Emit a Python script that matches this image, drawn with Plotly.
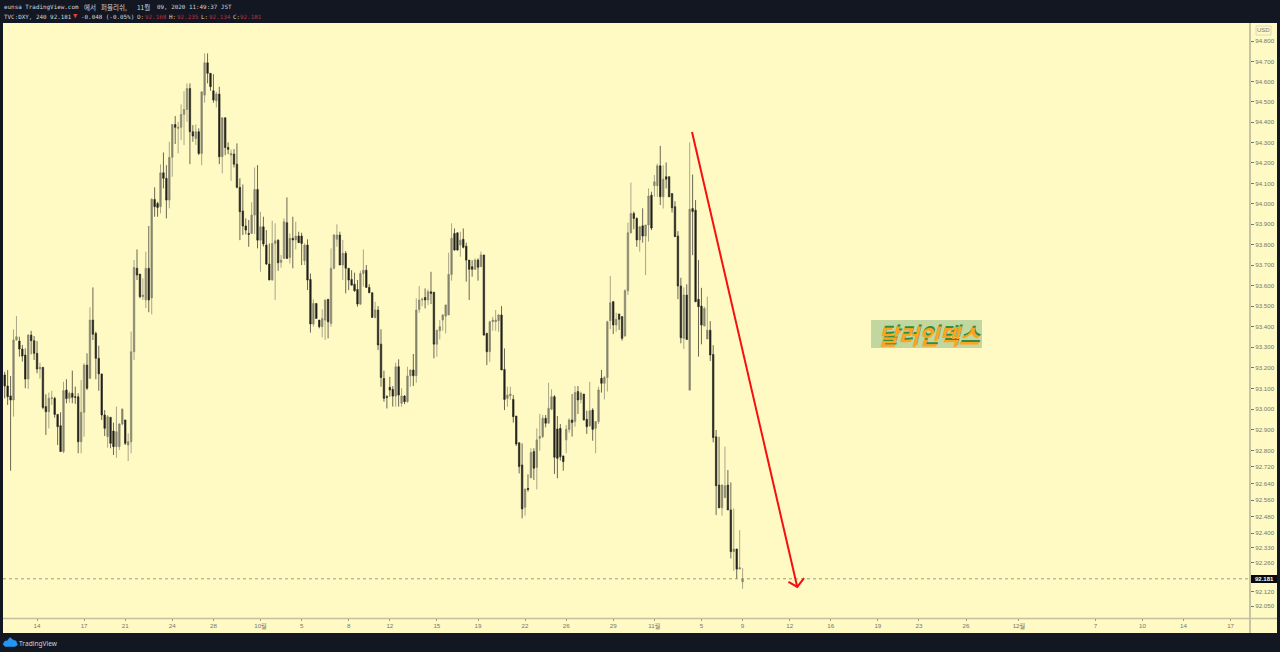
import math
import plotly.graph_objects as go

W, H = 1280, 652
L, R, T, B = 3, 30, 23, 34

opens_read = [
93.175,93.121,93.073,93.053,93.345,93.340,93.301,93.272,93.155,93.369,
93.342,93.280,93.204,93.212,93.021,92.996,93.060,93.061,92.983,92.928,
92.802,93.102,93.061,93.086,93.069,93.069,92.850,92.993,93.223,93.159,
93.442,93.377,93.256,93.180,92.980,92.875,92.969,92.902,92.826,92.826,
92.936,92.956,92.834,92.850,
93.288,93.694,93.666,93.556,93.540,93.694,93.550,94.029,94.010,93.994,
94.159,94.132,94.026,94.234,94.394,94.375,94.380,94.443,94.467,94.569,
94.359,94.326,94.359,94.253,94.537,94.694,94.643,94.558,94.509,94.542,
94.237,94.427,94.282,94.245,94.250,94.201,94.088,93.973,93.900,93.864,
93.864,93.953,94.078,93.831,93.896,93.807,93.715,
93.637,93.815,93.831,93.723,93.742,93.916,93.747,93.840,93.832,93.851,
93.851,93.731,93.807,93.640,93.423,93.523,93.442,93.410,93.442,93.543,
93.426,93.694,93.835,93.856,93.710,93.767,93.694,93.640,93.617,93.591,
93.520,93.669,93.685,93.601,93.575,93.455,93.491,93.325,93.158,93.069,
93.115,93.105,93.072,93.215,
93.037,93.072,93.045,93.171,93.199,93.171,93.494,93.540,93.552,93.540,
93.580,93.577,93.325,93.390,93.442,93.461,93.467,93.664,93.864,93.867,
93.807,93.835,93.802,93.734,93.702,93.689,93.734,93.702,93.759,93.377,
93.288,93.434,93.434,93.439,93.467,93.202,93.061,93.074,93.056,92.975,
92.845,92.737,
92.531,92.623,92.675,92.802,92.725,92.867,92.875,92.964,92.940,93.008,
93.069,92.912,92.915,92.781,92.859,92.910,92.956,92.948,93.094,93.056,
93.082,92.959,92.927,93.004,92.915,92.948,93.159,93.134,93.163,93.439,
93.532,93.418,93.472,93.459,93.365,93.585,93.867,93.961,93.937,93.832,
93.901,93.851,93.905,
94.050,94.096,94.096,94.193,94.042,94.140,94.140,94.058,93.994,93.851,
93.608,93.353,93.564,93.101,93.985,93.977,93.543,93.510,93.413,93.350,
93.393,93.275,92.874,92.639,92.529,92.578,92.639,92.518,92.315,92.328,
92.230,92.168,
]
highs_read = [
93.191,93.199,93.170,93.397,93.462,93.361,93.321,93.304,93.373,93.390,
93.364,93.340,93.235,93.212,93.081,93.089,93.098,93.069,92.983,92.993,
93.142,93.154,93.094,93.196,93.118,93.086,93.150,93.232,93.280,93.504,
93.601,93.386,93.317,93.180,93.004,92.980,92.969,92.943,93.021,92.940,
93.013,92.956,92.891,93.386,
93.734,93.786,93.666,93.645,93.775,93.900,94.035,94.088,94.018,94.200,
94.258,94.196,94.310,94.394,94.435,94.407,94.492,94.556,94.594,94.594,
94.391,94.394,94.375,94.553,94.740,94.740,94.643,94.639,94.553,94.578,
94.427,94.427,94.307,94.272,94.274,94.302,94.132,94.102,93.937,93.929,
94.015,94.185,94.196,93.969,93.945,93.880,93.815,
93.926,93.913,93.835,93.759,93.937,94.039,93.864,93.945,93.921,93.872,
93.867,93.815,93.835,93.669,93.543,93.523,93.442,93.494,93.543,93.543,
93.791,93.861,93.908,93.872,93.832,93.778,93.694,93.685,93.673,93.637,
93.682,93.786,93.710,93.617,93.575,93.531,93.510,93.397,93.196,93.077,
93.166,93.121,93.235,93.251,
93.110,93.077,93.215,93.202,93.277,93.548,93.608,93.552,93.596,93.591,
93.677,93.580,93.393,93.442,93.471,93.518,93.770,93.913,93.888,93.867,
93.872,93.888,93.819,93.734,93.734,93.742,93.742,93.775,93.759,93.381,
93.439,93.458,93.491,93.471,93.510,93.304,93.118,93.118,93.077,92.975,
92.845,92.842,
92.620,92.691,92.818,92.818,92.915,92.985,92.980,92.980,93.137,93.105,
93.077,92.975,92.936,92.781,92.931,92.964,93.082,93.121,93.121,93.094,
93.082,93.001,93.142,93.013,92.948,93.118,93.199,93.170,93.439,93.657,
93.532,93.478,93.472,93.459,93.592,93.916,94.111,93.970,93.942,93.900,
93.986,93.905,94.083,
94.067,94.148,94.204,94.290,94.196,94.209,94.140,94.058,94.021,93.875,
93.648,93.601,93.616,94.307,94.150,94.026,93.734,93.599,93.507,93.556,
93.437,93.320,92.907,92.874,92.642,92.826,92.712,92.652,92.526,92.328,
92.420,92.235,
]
lows_read = [
93.061,93.029,92.709,92.972,93.342,93.264,93.240,93.110,93.107,93.275,
93.248,93.183,93.157,93.008,92.883,92.915,93.029,92.967,92.834,92.802,
92.794,93.037,93.040,93.037,93.034,92.794,92.794,92.875,93.102,93.155,
93.345,93.154,93.098,92.956,92.878,92.821,92.818,92.785,92.772,92.810,
92.930,92.834,92.756,92.794,
93.248,93.637,93.548,93.540,93.500,93.480,93.470,93.945,93.945,93.961,
94.083,93.937,93.986,94.140,94.299,94.253,94.318,94.294,94.407,94.201,
94.310,94.294,94.245,94.196,94.500,94.594,94.558,94.500,94.477,94.201,
94.156,94.245,94.250,94.120,94.185,94.083,93.831,93.856,93.859,93.799,
93.861,93.861,93.791,93.677,93.800,93.710,93.637,
93.634,93.540,93.682,93.697,93.742,93.742,93.718,93.694,93.786,93.819,
93.710,93.710,93.588,93.381,93.410,93.450,93.402,93.358,93.345,93.353,
93.410,93.689,93.799,93.710,93.637,93.572,93.588,93.612,93.580,93.507,
93.515,93.605,93.601,93.575,93.455,93.450,93.296,93.118,93.045,93.012,
93.069,93.021,93.021,93.021,
93.020,93.033,93.040,93.118,93.121,93.137,93.478,93.510,93.499,93.515,
93.520,93.256,93.264,93.348,93.390,93.377,93.467,93.634,93.780,93.780,
93.750,93.791,93.629,93.540,93.653,93.686,93.634,93.702,93.366,93.223,
93.239,93.390,93.390,93.385,93.199,93.004,93.020,93.053,92.943,92.829,
92.696,92.477,
92.490,92.607,92.672,92.664,92.618,92.807,92.867,92.920,92.940,93.004,
92.693,92.672,92.758,92.709,92.794,92.894,92.875,92.923,92.985,93.037,
92.953,92.888,92.923,92.855,92.794,92.936,93.089,93.056,93.094,93.397,
93.374,93.386,93.394,93.342,93.361,93.564,93.864,93.884,93.799,93.775,
93.819,93.661,93.824,
93.880,94.042,94.042,94.002,93.985,94.083,94.042,93.966,93.848,93.544,
93.329,93.301,93.345,93.101,93.758,93.531,93.264,93.324,93.413,93.350,
93.243,92.847,92.493,92.526,92.490,92.578,92.518,92.282,92.221,92.185,
92.230,92.134,
]
closes_read = [
93.121,93.069,93.053,93.345,93.361,93.301,93.267,93.155,93.369,93.342,
93.280,93.204,93.212,93.017,92.996,93.061,93.064,92.983,92.923,92.802,
93.098,93.060,93.086,93.066,93.066,92.850,92.993,93.223,93.110,93.442,
93.373,93.256,93.180,92.980,92.915,92.972,92.842,92.826,92.899,92.936,
93.008,92.842,92.850,93.288,
93.698,93.661,93.556,93.564,93.694,93.540,94.030,93.994,93.990,94.159,
94.132,94.026,94.234,94.394,94.380,94.380,94.443,94.467,94.569,94.359,
94.338,94.359,94.253,94.553,94.694,94.643,94.578,94.513,94.542,94.237,
94.427,94.282,94.273,94.253,94.201,94.088,93.969,93.900,93.880,93.859,
93.953,94.078,93.831,93.896,93.812,93.715,93.637,
93.815,93.828,93.721,93.734,93.921,93.742,93.840,93.832,93.851,93.819,
93.815,93.807,93.637,93.423,93.523,93.450,93.410,93.450,93.539,93.434,
93.694,93.856,93.856,93.710,93.767,93.694,93.637,93.612,93.585,93.520,
93.669,93.685,93.601,93.575,93.455,93.491,93.321,93.163,93.061,93.066,
93.102,93.072,93.215,93.077,
93.072,93.045,93.170,93.199,93.171,93.491,93.540,93.543,93.540,93.580,
93.572,93.325,93.393,93.410,93.467,93.515,93.664,93.840,93.783,93.783,
93.831,93.796,93.734,93.689,93.689,93.734,93.699,93.759,93.369,93.288,
93.434,93.442,93.442,93.467,93.199,93.056,93.077,93.082,92.972,92.839,
92.729,92.523,
92.620,92.618,92.797,92.721,92.859,92.875,92.964,92.940,93.013,93.069,
92.774,92.769,92.777,92.753,92.910,92.956,92.943,93.089,93.053,93.086,
92.956,92.923,93.001,92.910,92.948,93.102,93.134,93.163,93.434,93.527,
93.418,93.446,93.446,93.353,93.585,93.867,93.961,93.937,93.832,93.896,
93.851,93.905,94.046,
93.890,94.115,94.193,94.042,94.128,94.128,94.042,93.989,93.848,93.608,
93.356,93.564,93.348,93.982,93.970,93.531,93.507,93.418,93.499,93.393,
93.272,92.870,92.636,92.529,92.639,92.636,92.518,92.315,92.328,92.230,
92.237,92.181,
]

x_tick_vals = [11, 27, 41, 57, 71, 87, 101, 117, 131, 147, 161, 177, 191, 207,
               221, 237, 251, 267, 281, 297, 311, 327, 345, 371, 387, 401, 417]
x_tick_text = ["14", "17", "21", "24", "28", "10월", "5", "8", "12", "15", "19", "22",
               "26", "29", "11월", "5", "9", "12", "16", "19", "23", "26", "12월",
               "7", "10", "14", "17"]
y_ticks = [94.8, 94.7, 94.6, 94.5, 94.4, 94.3, 94.2, 94.1, 94.0, 93.9, 93.8, 93.7, 93.6,
           93.5, 93.4, 93.3, 93.2, 93.1, 93.0, 92.9, 92.8, 92.72, 92.64, 92.56, 92.48,
           92.4, 92.33, 92.26, 92.12, 92.05]
last_price = 92.181
arrow_x = [233.8, 269.6]
arrow_y_read = [94.357, 92.143]
head_x = [266.6, 269.6, 271.9]
head_y_read = [92.168, 92.143, 92.186]


# The chart's price axis is logarithmic; carry the straight-ruler readings over to it.
def on_log(p):
    return 94.8 * (92.05 / 94.8) ** ((94.8 - p) / (94.8 - 92.05))


opens = [on_log(p) for p in opens_read]
highs = [on_log(p) for p in highs_read]
lows = [on_log(p) for p in lows_read]
closes = [on_log(p) for p in closes_read]
arrow_y = [on_log(p) for p in arrow_y_read]
head_y = [on_log(p) for p in head_y_read]

DARK = "#131722"
CREAM = "#FFF9C4"

bar_x = list(range(len(opens)))
fig = go.Figure()
fig.add_trace(go.Candlestick(
    x=bar_x, open=opens, high=highs, low=lows, close=closes,
    whiskerwidth=0, hoverinfo="skip", showlegend=False,
    increasing=dict(line=dict(color="#85846f", width=0.7), fillcolor="#85846f"),
    decreasing=dict(line=dict(color="#2a2a22", width=0.7), fillcolor="#1c1c18"),
))
fig.add_trace(go.Scatter(x=arrow_x, y=arrow_y, mode="lines",
                         line=dict(color="#f70f0f", width=2), hoverinfo="skip", showlegend=False))
fig.add_trace(go.Scatter(x=head_x, y=head_y, mode="lines",
                         line=dict(color="#f70f0f", width=2), hoverinfo="skip", showlegend=False))


def px(v):
    return (v - L) / (W - L - R)


def py(v):
    return 1 - (v - T) / (H - T - B)


MONO = "DejaVu Sans Mono"
KR = "Noto Sans CJK KR"


def text(s, x, y, size=5.9, color="#d1d4dc", family=MONO, anchor="left"):
    return dict(text=s, xref="paper", yref="paper", x=px(x), y=py(y), xanchor=anchor, yanchor="middle",
                showarrow=False, font=dict(size=size, color=color, family=family), borderpad=0)


RED = "#b5353f"
annotations = [
    text("eunsa TradingView.com", 3, 7),
    text("에서", 83, 7, size=6.5, family=KR),
    text("퍼블리쉬,", 100, 7, size=6.5, family=KR),
    text("11월", 136, 7, size=6.5, family=KR),
    text("09, 2020 11:49:37 JST", 156, 7),
    text("TVC:DXY, 240 92.181", 3, 16.5),
    text("▼", 72, 15.5, color="#ef3b3b", size=7),
    text("-0.048 (-0.05%)", 80, 16.5),
    text("O:", 136, 16.5), text("92.168", 144, 16.5, color=RED),
    text("H:", 168, 16.5), text("92.235", 176, 16.5, color=RED),
    text("L:", 200, 16.5), text("92.134", 208, 16.5, color=RED),
    text("C:", 232, 16.5), text("92.181", 239, 16.5, color=RED),
    text("TradingView", 18, 643, size=6.6, color="#d1d4dc", family="Noto Sans"),
    text("USD", 1263.5, 30.5, size=6, color="#7a7a70", family="Liberation Sans", anchor="center"),
    text("<b>92.181</b>", 1264, 579, size=6, color="#ffffff", family="Liberation Sans", anchor="center"),
    text("<i><b>달러인덱스</b></i>", 930, 333, size=22, color="#2f8f3f", family=KR, anchor="center"),
    text("<i><b>달러인덱스</b></i>", 929, 335, size=22, color="#ffa41e", family=KR, anchor="center"),
]


def rect(x0, y0, x1, y1, fill, line=None, layer="below"):
    return dict(type="rect", xref="paper", yref="paper", x0=px(x0), x1=px(x1), y0=py(y0), y1=py(y1),
                fillcolor=fill, line=dict(color=line or fill, width=1 if line else 0), layer=layer)


cloud = [(3, 644), (5, 641), (7, 641), (10, 637.5), (13, 640), (16, 641), (17.5, 645), (15, 646.5), (5, 646.5)]
cloud_path = "M " + " L ".join(f"{px(a):.5f} {py(b):.5f}" for a, b in cloud) + " Z"

shapes = [
    rect(3, 23, 1277, 633, CREAM),
    rect(871, 320, 982, 348, "#c2d79f", layer="above"),
    rect(1256, 26, 1271, 35, "rgba(0,0,0,0)", "#dcd8b8", layer="above"),
    rect(1251, 575, 1277, 583, "#0a0a0a", layer="above"),
    dict(type="line", xref="paper", yref="y", x0=0, x1=1, y0=last_price, y1=last_price,
         line=dict(color="#77776a", width=0.7, dash="dot"), layer="below"),
    dict(type="line", xref="paper", yref="paper", x0=px(1250), x1=px(1250), y0=py(23), y1=py(633),
         line=dict(color="#8f8f85", width=1), layer="above"),
    dict(type="line", xref="paper", yref="paper", x0=px(3), x1=px(1277), y0=py(618.5), y1=py(618.5),
         line=dict(color="#c4c09e", width=1.5), layer="above"),
    dict(type="path", xref="paper", yref="paper", path=cloud_path, fillcolor="#2196f3",
         line=dict(color="#2196f3", width=0.5), layer="above"),
]

fig.update_layout(
    width=W, height=H, autosize=False,
    margin=dict(l=L, r=R, t=T, b=B, pad=0),
    paper_bgcolor=DARK, plot_bgcolor=CREAM,
    showlegend=False, hovermode=False,
    annotations=annotations, shapes=shapes,
    xaxis=dict(range=[-0.58, 423.6], rangeslider=dict(visible=False), showgrid=False, zeroline=False,
               tickmode="array", tickvals=x_tick_vals, ticktext=x_tick_text,
               ticks="outside", ticklen=2, tickcolor="#9a9a88", tickwidth=1,
               tickfont=dict(size=6.2, color="#77776a", family="Liberation Sans, Noto Sans CJK KR"),
               showline=False),
    yaxis=dict(type="log", range=[math.log10(on_log(91.992)), math.log10(on_log(94.888))],
               side="right", showgrid=False, zeroline=False,
               tickmode="array", tickvals=y_ticks, ticktext=[f"{v:.3f}" for v in y_ticks],
               ticks="outside", ticklen=3, tickcolor="#77776a", tickwidth=1,
               tickfont=dict(size=6.2, color="#77776a", family="Liberation Sans"),
               showline=False),
)

fig.write_html("out.html", config=dict(displayModeBar=False),
               post_script="document.body.style.margin='0';document.body.style.overflow='hidden';")
